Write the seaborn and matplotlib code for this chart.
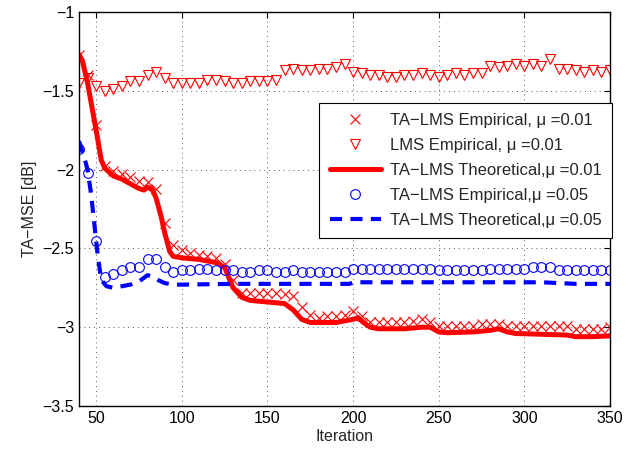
import numpy as np
import pandas as pd
import seaborn as sns
import matplotlib
matplotlib.use('Agg')
import matplotlib.pyplot as plt
from matplotlib.ticker import FuncFormatter

# iteration grid used for the empirical markers (one marker every 5 iterations)
it_emp = list(range(40, 355, 5))

ta_emp_001 = [-1.27, -1.40, -1.72, -1.98, -2.01, -2.03, -2.05, -2.07, -2.08, -2.12,
              -2.34, -2.48, -2.51, -2.53, -2.54, -2.55, -2.56, -2.60, -2.70, -2.78,
              -2.78, -2.78, -2.78, -2.78, -2.79, -2.80, -2.87, -2.92, -2.94, -2.93,
              -2.93, -2.92, -2.90, -2.93, -2.97, -2.97, -2.97, -2.97, -2.97, -2.96,
              -2.95, -2.97, -2.99, -2.99, -2.99, -2.99, -2.99, -2.98, -2.98, -2.98,
              -2.99, -2.99, -2.99, -2.99, -2.99, -2.99, -2.99, -2.99, -3.01, -3.01,
              -3.01, -3.01, -3.00]

lms_emp_001 = [-1.45, -1.42, -1.47, -1.50, -1.49, -1.47, -1.44, -1.44, -1.40, -1.38,
               -1.42, -1.45, -1.45, -1.45, -1.45, -1.43, -1.43, -1.44, -1.45, -1.45,
               -1.44, -1.44, -1.44, -1.43, -1.37, -1.36, -1.37, -1.37, -1.36, -1.36,
               -1.35, -1.33, -1.38, -1.39, -1.40, -1.40, -1.41, -1.41, -1.40, -1.40,
               -1.39, -1.40, -1.41, -1.40, -1.39, -1.40, -1.39, -1.39, -1.34, -1.35,
               -1.34, -1.33, -1.34, -1.33, -1.34, -1.30, -1.36, -1.36, -1.37, -1.38,
               -1.37, -1.38, -1.37]

ta_emp_005 = [-1.87, -2.02, -2.45, -2.68, -2.66, -2.64, -2.62, -2.62, -2.57, -2.57,
              -2.62, -2.65, -2.64, -2.64, -2.63, -2.63, -2.64, -2.64, -2.64, -2.65,
              -2.65, -2.64, -2.64, -2.65, -2.65, -2.64, -2.65, -2.65, -2.65, -2.65,
              -2.65, -2.65, -2.63, -2.63, -2.63, -2.63, -2.63, -2.63, -2.63, -2.63,
              -2.63, -2.63, -2.64, -2.64, -2.64, -2.64, -2.64, -2.64, -2.63, -2.63,
              -2.63, -2.63, -2.63, -2.62, -2.62, -2.62, -2.64, -2.64, -2.64, -2.64,
              -2.64, -2.64, -2.64]

# theoretical curves
it_th_001 = [40, 42, 45, 48, 50, 53, 55, 60, 65, 70, 75, 78, 80, 83, 85, 88, 90, 93,
             95, 100, 110, 120, 125, 128, 130, 135, 140, 150, 160, 165, 170, 175, 180,
             190, 195, 200, 203, 206, 210, 215, 230, 240, 245, 250, 255, 270, 280, 285,
             290, 295, 310, 325, 330, 340, 350]
ta_th_001 = [-1.27, -1.31, -1.45, -1.63, -1.75, -1.94, -1.99, -2.04, -2.06, -2.09,
             -2.12, -2.13, -2.11, -2.13, -2.18, -2.30, -2.40, -2.52, -2.55, -2.56,
             -2.57, -2.59, -2.62, -2.70, -2.75, -2.81, -2.83, -2.84, -2.85, -2.89,
             -2.95, -2.97, -2.97, -2.97, -2.96, -2.95, -2.94, -2.97, -3.00, -3.01,
             -3.01, -3.00, -3.00, -3.03, -3.035, -3.03, -3.02, -3.01, -3.03, -3.04,
             -3.045, -3.05, -3.06, -3.06, -3.055]

it_th_005 = [40, 43, 45, 47, 49, 51, 53, 56, 60, 65, 70, 75, 80, 83, 86, 90, 95, 100,
             130, 198, 200, 310, 320, 330, 350]
ta_th_005 = [-1.82, -1.92, -2.00, -2.15, -2.35, -2.55, -2.70, -2.74, -2.75, -2.74,
             -2.73, -2.71, -2.67, -2.68, -2.70, -2.72, -2.73, -2.73, -2.725, -2.725,
             -2.715, -2.715, -2.72, -2.725, -2.725]

labels = ['TA\u2212LMS Empirical, \u03bc =0.01',
          'LMS Empirical, \u03bc =0.01',
          'TA\u2212LMS Theoretical,\u03bc =0.01',
          'TA\u2212LMS Empirical,\u03bc =0.05',
          'TA\u2212LMS Theoretical,\u03bc =0.05']

sns.set_style('white')
plt.rcParams['font.family'] = ['Liberation Sans', 'DejaVu Sans']
plt.rcParams['axes.unicode_minus'] = True

fig = plt.figure(figsize=(6.36, 4.51), dpi=100)
ax = fig.add_axes([79/636, 45/451, 531/636, 394/451])

sns.lineplot(x=it_emp, y=ta_emp_001, ax=ax, linestyle='none', marker='x',
             markersize=7.5, markeredgewidth=0.8, markeredgecolor='red',
             color='red', label=labels[0])
sns.lineplot(x=it_emp, y=lms_emp_001, ax=ax, linestyle='none', marker='v',
             markersize=7.5, markeredgewidth=0.8, markerfacecolor='none',
             markeredgecolor='red', color='red', label=labels[1])
sns.lineplot(x=it_th_001, y=ta_th_001, ax=ax, color='red', linewidth=3.6,
             label=labels[2])
sns.lineplot(x=it_emp, y=ta_emp_005, ax=ax, linestyle='none', marker='o',
             markersize=7, markeredgewidth=0.8, markerfacecolor='none',
             markeredgecolor='blue', color='blue', label=labels[3])
sns.lineplot(x=it_th_005, y=ta_th_005, ax=ax, color='blue', linewidth=3,
             dashes=False, linestyle=(0, (2.9, 2.0)), label=labels[4])

ax.set_xlim(40, 350)
ax.set_ylim(-3.5, -1)
ax.set_xticks([50, 100, 150, 200, 250, 300, 350])
ax.set_yticks([-3.5, -3, -2.5, -2, -1.5, -1])
ax.yaxis.set_major_formatter(FuncFormatter(lambda v, _: f'{v:g}'.replace('-', '\u2212')))
ax.tick_params(direction='in', top=True, right=True, length=4, width=0.8,
               labelsize=11.5, colors='black')
ax.grid(True, linestyle=(0, (1, 4)), color='0.35', linewidth=0.7)
for s in ax.spines.values():
    s.set_color('black')
    s.set_linewidth(1.0)

ax.set_xlabel('Iteration', fontsize=11.5, labelpad=2)
ax.set_ylabel('TA\u2212MSE [dB]', fontsize=11.5, labelpad=4)

leg = ax.legend(loc='upper right', bbox_to_anchor=(1.003, 0.77), fontsize=12,
                frameon=True, fancybox=False, edgecolor='black', framealpha=1,
                borderaxespad=0, handlelength=3.1, handletextpad=0.5,
                labelspacing=0.6, borderpad=0.62)
leg.get_frame().set_linewidth(0.8)

fig.savefig('out.png', dpi=100)
